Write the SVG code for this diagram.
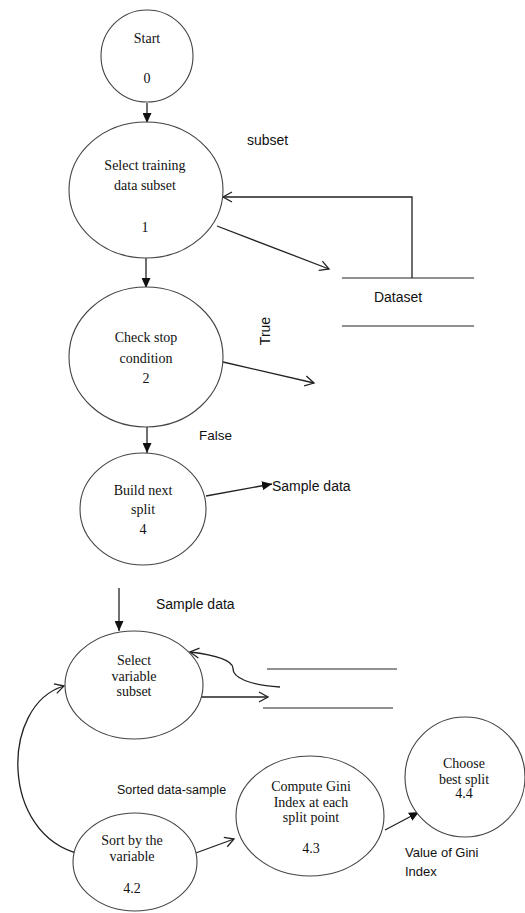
<svg xmlns="http://www.w3.org/2000/svg" width="525" height="913" viewBox="0 0 525 913">
<style>
.node{fill:#fff;stroke:#444;stroke-width:1.1}
.nt{font-family:"Liberation Serif","Times New Roman",serif;font-size:14px;fill:#111;text-anchor:middle}
.lb{font-family:"Liberation Sans",Arial,sans-serif;font-size:14px;fill:#111}
.c{fill:none;stroke:#222;stroke-width:1.3}
.store{stroke:#222;stroke-width:1.2}
</style>
<defs>
<marker id="fa" markerWidth="11" markerHeight="9" refX="10" refY="4.5" orient="auto" markerUnits="userSpaceOnUse"><path d="M0,0 L10,4.5 L0,9 z" fill="#111"/></marker>
<marker id="oa" markerWidth="12" markerHeight="12" refX="10" refY="6" orient="auto" markerUnits="userSpaceOnUse" style="overflow:visible"><path d="M1,1 L10,6 L1,11" fill="none" stroke="#222" stroke-width="1.3"/></marker>
</defs>
<rect width="525" height="913" fill="#fff"/>

<g id="connectors">
<line class="c" x1="147" y1="103" x2="147" y2="123" marker-end="url(#fa)"/>
<line class="c" x1="146" y1="258" x2="146" y2="288" marker-end="url(#fa)"/>
<line class="c" x1="147" y1="427" x2="147" y2="453" marker-end="url(#fa)"/>
<line class="c" x1="206" y1="496" x2="272" y2="484" marker-end="url(#fa)"/>
<line class="c" x1="119" y1="588" x2="119" y2="631" marker-end="url(#fa)"/>
<line class="c" x1="385" y1="830" x2="419" y2="812" marker-end="url(#fa)"/>
<line class="c" x1="217" y1="226" x2="329" y2="269" marker-end="url(#oa)"/>
<polyline class="c" points="412,278 412,197 223,197" marker-end="url(#oa)"/>
<line class="c" x1="223" y1="362" x2="314" y2="383" marker-end="url(#oa)"/>
<path class="c" d="M280,687 C250,685 232,678 233,668 C232,660 215,655 190,652" marker-end="url(#oa)"/>
<line class="c" x1="198" y1="697" x2="268" y2="697" marker-end="url(#oa)"/>
<line class="c" x1="193" y1="854" x2="234" y2="839" marker-end="url(#oa)"/>
<path class="c" d="M80,854 C0,835 0,705 64,686" marker-end="url(#oa)"/>
</g>

<g id="node0">
<circle class="node" cx="147" cy="56" r="46"/>
<text class="nt" x="147" y="43">Start</text>
<text class="nt" x="147" y="83">0</text>
</g>
<g id="node1">
<ellipse class="node" cx="146" cy="190" rx="77" ry="68"/>
<text class="nt" x="145" y="170">Select training</text>
<text class="nt" x="145" y="190">data subset</text>
<text class="nt" x="145" y="232">1</text>
</g>
<g id="node2">
<ellipse class="node" cx="146" cy="357" rx="77" ry="70"/>
<text class="nt" x="146" y="342">Check stop</text>
<text class="nt" x="146" y="363">condition</text>
<text class="nt" x="146" y="383">2</text>
</g>
<g id="node4">
<ellipse class="node" cx="143" cy="509" rx="63" ry="56"/>
<text class="nt" x="143" y="495">Build next</text>
<text class="nt" x="143" y="514">split</text>
<text class="nt" x="143" y="534">4</text>
</g>
<g id="node41">
<ellipse class="node" cx="134" cy="685" rx="69" ry="54"/>
<text class="nt" x="134" y="665">Select</text>
<text class="nt" x="134" y="681">variable</text>
<text class="nt" x="134" y="696">subset</text>
</g>
<g id="node42">
<ellipse class="node" cx="135" cy="862" rx="62" ry="49"/>
<text class="nt" x="132" y="845">Sort by the</text>
<text class="nt" x="132" y="861">variable</text>
<text class="nt" x="132" y="893">4.2</text>
</g>
<g id="node43">
<ellipse class="node" cx="310" cy="816" rx="74" ry="60"/>
<text class="nt" x="311" y="791">Compute Gini</text>
<text class="nt" x="311" y="807">Index at each</text>
<text class="nt" x="311" y="822">split point</text>
<text class="nt" x="311" y="853">4.3</text>
</g>
<g id="node44">
<circle class="node" cx="465" cy="777" r="60"/>
<text class="nt" x="464" y="768">Choose</text>
<text class="nt" x="464" y="784">best split</text>
<text class="nt" x="464" y="798">4.4</text>
</g>
<g id="dataset">
<line class="store" x1="342" y1="278" x2="474" y2="278"/>
<line class="store" x1="342" y1="326" x2="474" y2="326"/>
<text class="lb" x="398" y="302" text-anchor="middle">Dataset</text>
</g>
<g id="store2">
<line class="store" x1="267" y1="669" x2="397" y2="669"/>
<line class="store" x1="263" y1="708" x2="393" y2="708"/>
</g>

<g id="labels">
<text class="lb" x="247" y="145">subset</text>
<text class="lb" x="0" y="0" text-anchor="middle" transform="translate(270,331) rotate(-90)">True</text>
<text class="lb" x="199" y="440" style="font-size:13.5px">False</text>
<text class="lb" x="272" y="491">Sample data</text>
<text class="lb" x="156" y="609">Sample data</text>
<text class="lb" x="117" y="794" style="font-size:12.5px">Sorted data-sample</text>
<text class="lb" x="405" y="857" style="font-size:13px">Value of Gini</text>
<text class="lb" x="405" y="876" style="font-size:13px">Index</text>
</g>
</svg>
